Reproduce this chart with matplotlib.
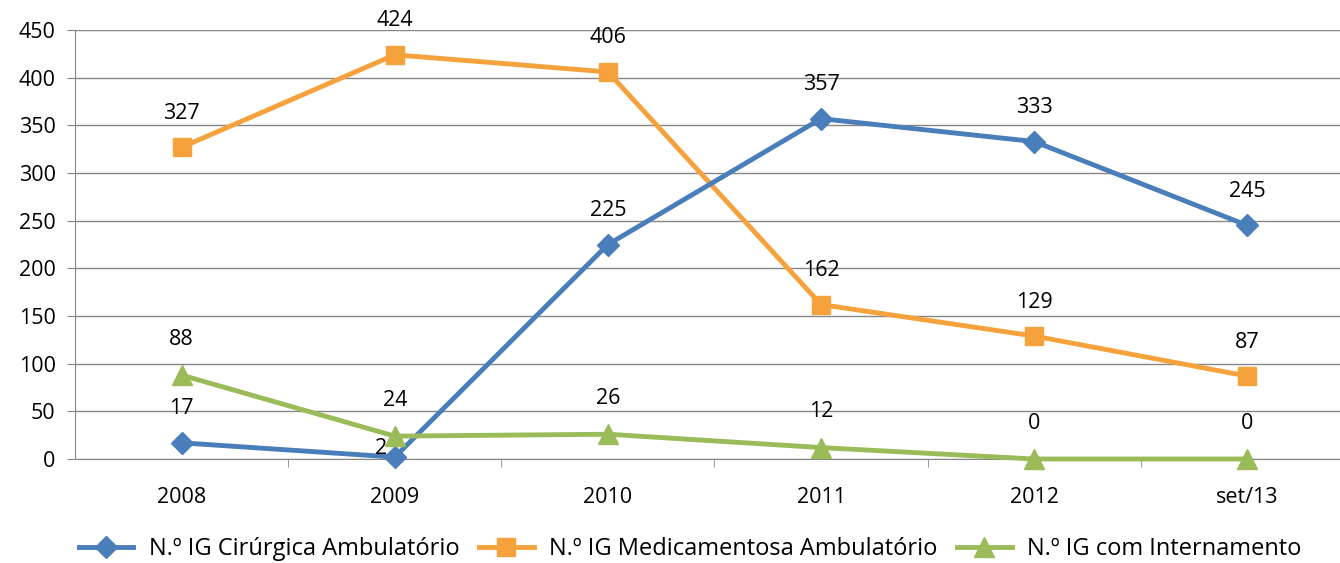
import matplotlib.pyplot as plt
from matplotlib.ticker import FixedLocator

categories = ["2008", "2009", "2010", "2011", "2012", "set/13"]
cirurgica = [17, 2, 225, 357, 333, 245]
medicamentosa = [327, 424, 406, 162, 129, 87]
internamento = [88, 24, 26, 12, 0, 0]

series_names = [
    "N.º IG Cirúrgica Ambulatório",
    "N.º IG Medicamentosa Ambulatório",
    "N.º IG com Internamento",
]

plt.rcParams["font.family"] = ["Open Sans", "DejaVu Sans"]

fig = plt.figure(figsize=(13.4, 5.63), dpi=100)
ax = fig.add_axes([0.056, 0.1847, 0.9544, 0.762])

x = list(range(len(categories)))
blue, orange, green = "#4A7EBB", "#F5A23C", "#9BBB59"

ax.plot(x, medicamentosa, color=orange, lw=3.5, marker="s", ms=13, label=series_names[1],
        zorder=3, clip_on=False)
ax.plot(x, cirurgica, color=blue, lw=3.5, marker="D", ms=11, label=series_names[0],
        zorder=4, clip_on=False)
ax.plot(x, internamento, color=green, lw=3.5, marker="^", ms=15, label=series_names[2],
        zorder=5, clip_on=False)

fs = 15.5
for xi, v in zip(x, cirurgica):
    if v == 2:
        ax.annotate(str(v), (xi, v), xytext=(-14, 9), textcoords="offset pixels",
                    ha="center", va="center", fontsize=fs, zorder=6)
    else:
        ax.annotate(str(v), (xi, v), xytext=(0, 34), textcoords="offset pixels",
                    ha="center", va="center", fontsize=fs)
for xi, v in zip(x, medicamentosa):
    ax.annotate(str(v), (xi, v), xytext=(0, 34), textcoords="offset pixels",
                ha="center", va="center", fontsize=fs)
for xi, v in zip(x, internamento):
    ax.annotate(str(v), (xi, v), xytext=(0, 36), textcoords="offset pixels",
                ha="center", va="center", fontsize=fs)

ax.set_xlim(-0.5, len(categories) - 0.5)
ax.set_ylim(0, 450)
ax.set_yticks(range(0, 451, 50))
ax.tick_params(axis="y", labelsize=fs, length=6, color="#868686", pad=8)
ax.set_xticks(x)
ax.set_xticklabels(categories)
ax.tick_params(axis="x", which="major", length=0, labelsize=fs, pad=20)
ax.xaxis.set_minor_locator(FixedLocator([i + 0.5 for i in range(len(categories) - 1)]))
ax.tick_params(axis="x", which="minor", length=6, color="#868686")

ax.grid(axis="y", color="#868686", lw=1)
ax.set_axisbelow(True)
for side in ["top", "right"]:
    ax.spines[side].set_visible(False)
ax.spines["left"].set_color("#868686")
ax.spines["bottom"].set_color("#868686")

handles, labels = ax.get_legend_handles_labels()
order = [1, 0, 2]
fig.legend([handles[i] for i in order], [labels[i] for i in order],
           loc="center", bbox_to_anchor=(0.515, 0.025), ncol=3, frameon=False,
           fontsize=17, handlelength=2.3, columnspacing=0.85, handletextpad=0.65)

fig.savefig("out.png", dpi=100)
